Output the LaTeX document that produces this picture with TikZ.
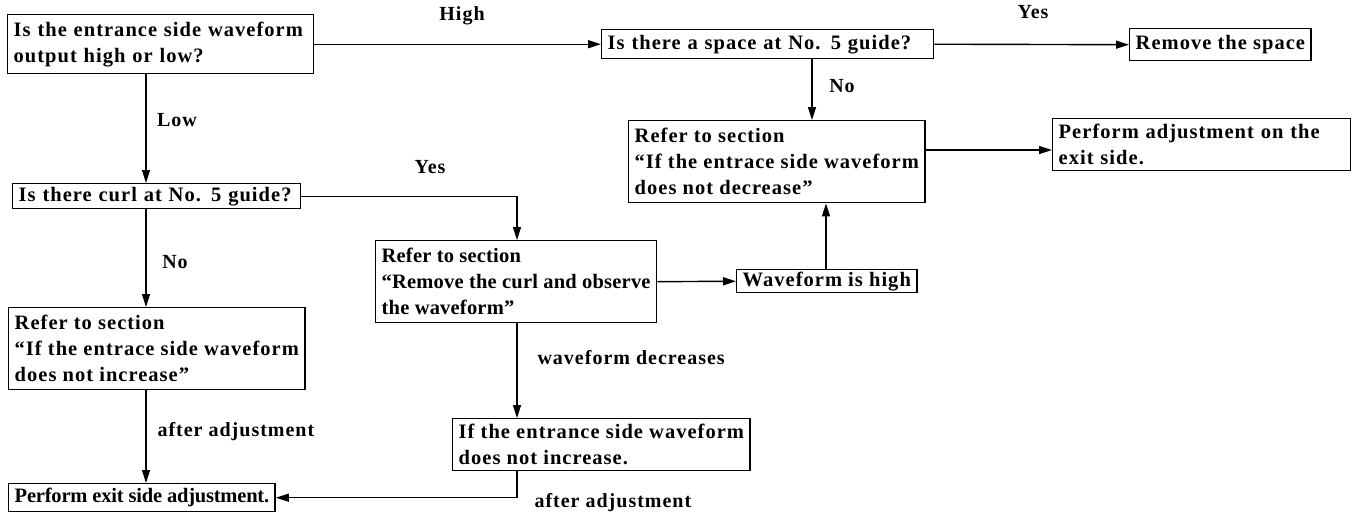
\documentclass[tikz,border=0pt]{standalone}
\usepackage{fontspec}
\setmainfont{Liberation Serif}[LetterSpace=5]
\usetikzlibrary{arrows.meta}

\tikzset{
 box/.style={draw, line width=1.4pt, anchor=north west, inner xsep=6pt, inner ysep=2pt,
   align=left, font=\bfseries\fontsize{20.5}{26}\selectfont},
 tight/.style={font=\bfseries\fontsize{20.5}{26}\selectfont\addfontfeature{LetterSpace=#1}},
 lbl/.style={font=\bfseries\fontsize{20}{22}\selectfont},
 flow/.style={line width=1.4pt, -{Triangle[length=13pt,width=8pt]}},
}

\begin{document}
\begin{tikzpicture}[x=1pt,y=-1pt]

 \useasboundingbox (0,0) rectangle (1360,515);

 %%%  nodes

 % top row
 \node [box, text width=294pt, minimum height=59pt] (q1) at (7,14) {Is the entrance side waveform\\output high or low?};
 \node [box, text width=320pt, minimum height=29pt] (q2) at (601,29) {Is there a space at No. 5 guide?};
 \node [box, minimum height=32pt] (rs) at (1129,28) {Remove the space};

 % right side
 \node [box, minimum height=82pt] (ref1) at (628,120) {Refer to section\\``If the entrace side waveform\\does not decrease''};
 \node [box, text width=286pt, minimum height=52pt] (adj1) at (1052,118) {Perform adjustment on the\\exit side.};
 \node [box, minimum height=23pt] (wh) at (736,269) {Waveform is high};

 % left column
 \node [box, text width=276pt, minimum height=25pt] (q3) at (12,183) {Is there curl at No. 5 guide?};
 \node [box, minimum height=82pt] (ref3) at (8,307) {Refer to section\\``If the entrace side waveform\\does not increase''};
 \node [box, tight=-1, minimum height=28pt] (adj2) at (8,483) {Perform exit side adjustment.};

 % middle column
 \node [box, tight=1, minimum height=82pt] (ref2) at (375,240) {Refer to section\\``Remove the curl and observe\\the waveform''};
 \node [box, minimum height=52pt] (inc) at (452,418) {If the entrance side waveform\\does not increase.};

 % columns and rows of the connectors
 \coordinate (c0) at (146,0);
 \coordinate (c1) at (812,0);
 \coordinate (c2) at (517,0);
 \coordinate (c3) at (826,0);
 \coordinate (r1) at (0,150);

 %%%  connectors

 \draw [flow] (q1.east) -- (q2.west);
 \draw [flow] (q2.east) -- (rs.west);
 \draw [flow] (q2.south -| c1) -- (ref1.north -| c1);
 \draw [flow] (ref1.east |- r1) -- (adj1.west |- r1);
 \draw [flow] (q1.south -| c0) -- (q3.north -| c0);
 \draw [flow] (q3.east) -| (ref2.north -| c2);
 \draw [flow] (ref2.east) -- (wh.west);
 \draw [flow] (wh.north -| c3) -- (ref1.south -| c3);
 \draw [flow] (q3.south -| c0) -- (ref3.north -| c0);
 \draw [flow] (ref3.south -| c0) -- (adj2.north -| c0);
 \draw [flow] (ref2.south -| c2) -- (inc.north -| c2);
 \draw [flow] (inc.south -| c2) |- (adj2.east);

 % branch labels
 \node [lbl] (hi) at (462,16) {High};
 \node [lbl] (y1) at (1033,12) {Yes};
 \node [lbl] (n1) at (842,86) {No};
 \node [lbl] (lo) at (177,120) {Low};
 \node [lbl] (y2) at (430,167) {Yes};
 \node [lbl] (n2) at (175,262) {No};
 \node [lbl, anchor=west] (aa1) at (154,432) {after adjustment};
 \node [lbl, anchor=west] (wd) at (534,358) {waveform decreases};
 \node [lbl, anchor=west] (aa2) at (531,503) {after adjustment};

\end{tikzpicture}
\end{document}
